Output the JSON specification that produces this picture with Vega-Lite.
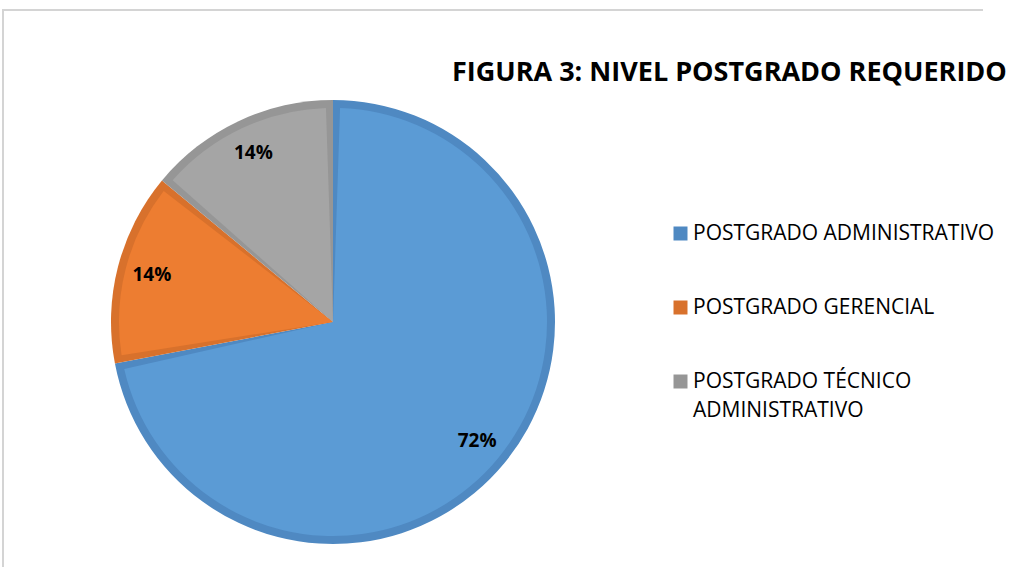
{
  "$schema": "https://vega.github.io/schema/vega-lite/v6.json",
  "width": 1008,
  "height": 557,
  "autosize": {"type": "none"},
  "padding": {"left": 3, "top": 10, "right": 0, "bottom": 0},
  "background": "white",
  "view": {"stroke": "#d4d4d4", "strokeWidth": 2, "strokeDash": [980, 1593]},
  "config": {
    "legend": {
      "orient": "none",
      "legendX": 667,
      "legendY": 213,
      "symbolType": "square",
      "symbolSize": 196,
      "symbolStrokeWidth": 0,
      "labelFont": "Open Sans",
      "labelFontSize": 21,
      "labelColor": "#000000",
      "labelLimit": 500,
      "labelOffset": 2,
      "rowPadding": 52,
      "title": null
    }
  },
  "title": {
    "text": "FIGURA 3: NIVEL POSTGRADO REQUERIDO",
    "anchor": "start",
    "frame": "group",
    "orient": "top",
    "font": "Open Sans",
    "fontSize": 27,
    "fontWeight": "bold",
    "color": "#000000",
    "dx": 449,
    "dy": 98,
    "offset": 0,
    "baseline": "alphabetic"
  },
  "data": {
    "values": [
      {"category": "POSTGRADO ADMINISTRATIVO", "value": 0.72, "orden": 1},
      {"category": "POSTGRADO GERENCIAL", "value": 0.14, "orden": 2},
      {"category": "POSTGRADO TÉCNICO ADMINISTRATIVO", "value": 0.14, "orden": 3}
    ]
  },
  "encoding": {
    "theta": {"field": "value", "type": "quantitative", "stack": true},
    "order": {"field": "orden", "type": "quantitative"}
  },
  "layer": [
    {
      "mark": {"type": "arc", "radius": 222, "x": 330, "y": 312},
      "encoding": {
        "color": {
          "field": "category",
          "type": "nominal",
          "scale": {
            "domain": ["POSTGRADO ADMINISTRATIVO", "POSTGRADO GERENCIAL", "POSTGRADO TÉCNICO ADMINISTRATIVO"],
            "range": ["#4f89c2", "#d8712c", "#969696"]
          },
          "legend": {
            "labelExpr": "datum.label == 'POSTGRADO TÉCNICO ADMINISTRATIVO' ? ['POSTGRADO TÉCNICO', 'ADMINISTRATIVO'] : datum.label",
            "encode": {"labels": {"update": {"lineHeight": {"value": 29}}}}
          }
        }
      }
    },
    {
      "mark": {"type": "arc", "radius": 214, "padAngle": 0.066, "x": 330, "y": 312},
      "encoding": {
        "fill": {
          "field": "category",
          "type": "nominal",
          "scale": {
            "domain": ["POSTGRADO ADMINISTRATIVO", "POSTGRADO GERENCIAL", "POSTGRADO TÉCNICO ADMINISTRATIVO"],
            "range": ["#5b9bd5", "#ed7d31", "#a5a5a5"]
          },
          "legend": null
        }
      }
    },
    {
      "mark": {"type": "text", "radius": 187, "x": 330, "y": 312, "font": "Open Sans", "fontSize": 19, "fontWeight": "bold", "color": "#000000"},
      "encoding": {
        "detail": {"field": "category", "type": "nominal"},
        "text": {"field": "value", "type": "quantitative", "format": ".0%"}
      }
    }
  ]
}
